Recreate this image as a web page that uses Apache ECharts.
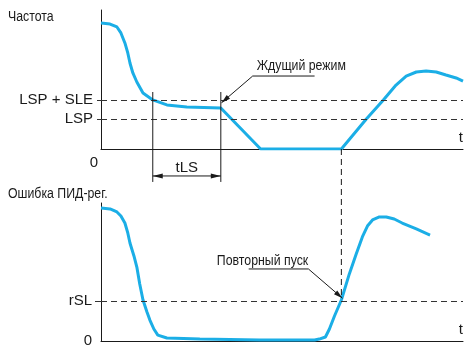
<!DOCTYPE html>
<html>
<head>
<meta charset="utf-8">
<script src="https://cdn.jsdelivr.net/npm/echarts/dist/echarts.min.js"></script>
<style>
  html, body { margin: 0; padding: 0; background: #fff; }
  #main { width: 464px; height: 352px; }
</style>
</head>
<body>
<div id="main"></div>
<script>
// time axis in arbitrary units (0..100), values in % of axis height
const timeTop = [0, 2.5, 4.4, 5.5, 6.6, 7.4, 8.0, 8.8, 9.9, 11.6, 14.3, 18.2, 23.7, 33.1, 44.1, 66.4, 73.3, 78.0, 81.5, 84.3, 87.1, 89.8, 92.6, 95.3, 98.1, 100]
const freq = [90.6, 89.9, 87.8, 83.5, 76.3, 69.1, 61.9, 54.7, 48.2, 40.3, 35.3, 31.7, 30.2, 29.5, 0, 0, 21.6, 35.3, 46.0, 52.5, 55.4, 56.1, 55.4, 53.2, 51.1, 48.9]

const timeBottom = [0, 2.5, 4.4, 5.5, 6.6, 7.4, 8.0, 9.1, 9.9, 10.7, 11.6, 12.7, 13.5, 14.6, 15.7, 18.2, 27.3, 43.8, 59.0, 60.3, 62.0, 63.1, 64.5, 66.4, 68.6, 70.5, 72.2, 73.6, 75.0, 76.9, 78.8, 81.0, 83.2, 87.1, 90.9]
const pidError = [96.4, 95.7, 93.5, 90.6, 85.5, 78.3, 71.0, 61.6, 53.6, 41.3, 29.7, 21.0, 15.2, 8.7, 4.3, 2.2, 1.4, 0.7, 0.7, 1.4, 2.9, 8.7, 18.1, 29.7, 48.6, 63.0, 75.4, 83.3, 87.7, 89.9, 89.9, 88.4, 85.5, 81.2, 76.8]

const topLevels = [35.3, 21.6]
const topLevelNames = ['LSP + SLE', 'LSP']
const bottomLevels = [29]
const bottomLevelNames = ['rSL']

const tlsStart = 14.3
const tlsEnd = 33.1
const restartTime = 66.4

const blue = '#1BAEE6'
const ink = '#1a1a1a'
const regular = "'Liberation Sans', Arial, sans-serif"
// the original uses a condensed face; squeeze Liberation Sans instead
const narrowScale = 0.88

function zip(xs, ys) {
  return xs.map((x, i) => [x, ys[i]])
}

function levelLabel(values, names) {
  return function (v) {
    const i = values.findIndex(x => Math.abs(x - v) < 0.01)
    return i >= 0 ? names[i] : ''
  }
}

const dashed = { color: '#333', width: 1, type: [6, 4] }

const option = {
  animation: false,
  grid: [
    { left: 101, top: 10, width: 363, height: 139 },
    { left: 101, top: 203, width: 363, height: 138 }
  ],
  xAxis: [
    {
      gridIndex: 0, type: 'value', min: 0, max: 100,
      axisLine: { lineStyle: { color: ink, width: 1 } },
      axisTick: { show: false },
      splitLine: { show: false },
      axisLabel: { customValues: [0], formatter: () => '0', margin: 6, align: 'right', padding: [0, 3, 0, 0],
        fontFamily: regular, fontSize: 15, color: ink },
      name: 't', nameLocation: 'end', nameGap: 0,
      nameTextStyle: { fontFamily: regular, fontSize: 15, color: ink, align: 'right', verticalAlign: 'bottom', padding: [0, 0, 4, 0] }
    },
    {
      gridIndex: 1, type: 'value', min: 0, max: 100,
      axisLine: { lineStyle: { color: ink, width: 1 } },
      axisTick: { show: false },
      splitLine: { show: false },
      axisLabel: { show: false },
      name: 't', nameLocation: 'end', nameGap: 0,
      nameTextStyle: { fontFamily: regular, fontSize: 15, color: ink, align: 'right', verticalAlign: 'bottom', padding: [0, 0, 4, 0] }
    }
  ],
  yAxis: [
    {
      gridIndex: 0, type: 'value', min: 0, max: 100,
      axisLine: { show: true, lineStyle: { color: ink, width: 1 } },
      axisTick: { show: true, customValues: topLevels, length: 4, lineStyle: { color: '#333' } },
      splitLine: { show: false },
      axisLabel: { customValues: topLevels, formatter: levelLabel(topLevels, topLevelNames), margin: 8,
        fontFamily: regular, fontSize: 15, color: ink }
    },
    {
      gridIndex: 1, type: 'value', min: 0, max: 100,
      axisLine: { show: true, lineStyle: { color: ink, width: 1 } },
      axisTick: { show: true, customValues: bottomLevels, length: 6, lineStyle: { color: '#333' } },
      splitLine: { show: false },
      axisLabel: { customValues: [0].concat(bottomLevels), formatter: levelLabel([0].concat(bottomLevels), ['0'].concat(bottomLevelNames)),
        margin: 9, fontFamily: regular, fontSize: 15, color: ink }
    }
  ],
  series: [
    {
      type: 'line', xAxisIndex: 0, yAxisIndex: 0,
      data: zip(timeTop, freq),
      showSymbol: false, smooth: false,
      lineStyle: { color: blue, width: 3 },
      markLine: {
        silent: true, symbol: 'none', label: { show: false },
        lineStyle: dashed,
        data: topLevels.map(v => ({ yAxis: v }))
      },
      z: 3
    },
    {
      type: 'line', xAxisIndex: 1, yAxisIndex: 1,
      data: zip(timeBottom, pidError),
      showSymbol: false, smooth: false,
      lineStyle: { color: blue, width: 3 },
      markLine: {
        silent: true, symbol: 'none', label: { show: false },
        lineStyle: dashed,
        data: bottomLevels.map(v => ({ yAxis: v }))
      },
      z: 3
    }
  ]
}

const chart = echarts.init(document.getElementById('main'))
chart.setOption(option)

// annotations placed through the grids' own scales
const p0 = (t, v) => chart.convertToPixel({ gridIndex: 0 }, [t, v])
const p1 = (t, v) => chart.convertToPixel({ gridIndex: 1 }, [t, v])

function seg(a, b, dash) {
  return {
    type: 'line', z: 10, silent: true,
    shape: { x1: a[0], y1: a[1], x2: b[0], y2: b[1] },
    style: { stroke: ink, lineWidth: 1, lineDash: dash || null }
  }
}
function head(tip, from, len, half) {
  const dx = tip[0] - from[0], dy = tip[1] - from[1]
  const d = Math.sqrt(dx * dx + dy * dy)
  const ux = dx / d, uy = dy / d
  const bx = tip[0] - ux * len, by = tip[1] - uy * len
  return {
    type: 'polygon', z: 10, silent: true,
    shape: { points: [tip, [bx - uy * half, by + ux * half], [bx + uy * half, by - ux * half]] },
    style: { fill: ink }
  }
}
function label(text, pos, size, align, narrow) {
  return {
    type: 'text', z: 10, silent: true, x: pos[0], y: pos[1],
    scaleX: narrow ? narrowScale : 1,
    style: { text: text, font: size + 'px ' + regular, fill: ink, align: align || 'left', verticalAlign: 'middle' }
  }
}

const g = []
// panel titles
g.push(label('Частота', [8, 17], 14, 'left', true))
g.push(label('Ошибка ПИД-рег.', [8, 194], 14, 'left', true))

// tLS dimension
const a1 = p0(tlsStart, 41), a2 = p0(tlsStart, -23.7)
const b1 = p0(tlsEnd, 41), b2 = p0(tlsEnd, -23.7)
g.push(seg(a1, a2), seg(b1, b2))
const la = p0(tlsStart, -19.4), lb = p0(tlsEnd, -19.4)
g.push(seg(la, lb), head(la, lb, 10, 2.5), head(lb, la, 10, 2.5))
g.push(label('tLS', p0((tlsStart + tlsEnd) / 2, -13.7), 15, 'center'))

// restart time, dashed through both charts
const r1 = p0(restartTime, 0), r2 = p1(restartTime, 32.6)
g.push(seg(r1, [r1[0], r2[1]], [6, 4]))

// "Ждущий режим" callout
const w0 = p0(41.9, 52.5), w1 = p0(59, 52.5), wt = p0(33.3, 33.3)
g.push(seg(w0, w1), seg(w0, wt), head(wt, w0, 9, 2.5))
g.push(label('Ждущий режим', p0(43, 59.7), 14, 'left', true))

// "Повторный пуск" callout
const s0 = p1(40.8, 52.2), s1 = p1(57.3, 52.2), st = p1(66.7, 31)
g.push(seg(s0, s1), seg(s1, st), head(st, s1, 9, 2.5))
g.push(label('Повторный пуск', p1(32, 58), 14, 'left', true))

chart.setOption({ graphic: g })
</script>
</body>
</html>
